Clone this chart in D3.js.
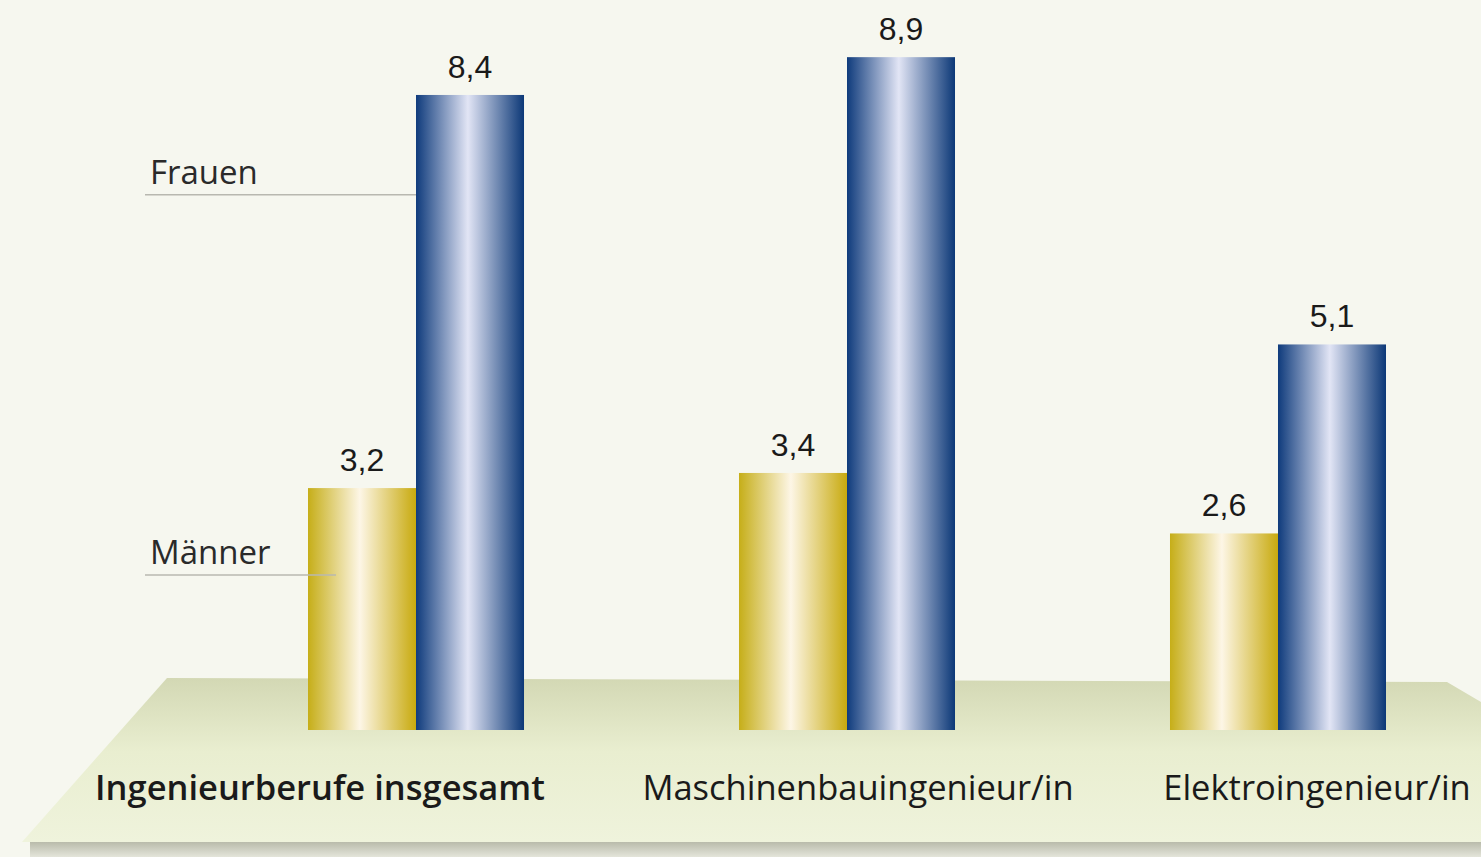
<!DOCTYPE html>
<html lang="de">
<head>
<meta charset="UTF-8">
<title>Ingenieurberufe - Männer / Frauen</title>
<script src="https://d3js.org/d3.v7.min.js"></script>
<style>
    body { margin: 0; background: #f6f7ef; }
    svg { display: block; }
    .val { font-family: "Liberation Sans", Arial, sans-serif; font-size: 32px; fill: #1a1a1a; }
    .cat { font-family: "Open Sans", sans-serif; font-size: 34.5px; fill: #1a1a1a; }
    .leg { font-family: "Open Sans", sans-serif; font-size: 33px; fill: #2a2a2a; }
</style>
</head>
<body>
<svg id="chart" width="1481" height="857"></svg>
<script>
    // data
    let categories = ["Ingenieurberufe insgesamt", "Maschinenbauingenieur/in", "Elektroingenieur/in"]
    let series = ["Männer", "Frauen"]
    let maenner = [3.2, 3.4, 2.6]
    let frauen = [8.4, 8.9, 5.1]
    let labelsDe = d => d.toFixed(1).replace(".", ",")

    let width = 1481, height = 857
    let svg = d3.select("#chart")
    let defs = svg.append("defs")

    function barGradient(id, edgeL, mid, edgeR) {
        let g = defs.append("linearGradient").attr("id", id)
            .attr("x1", "0%").attr("x2", "100%").attr("y1", "0%").attr("y2", "0%")
        g.append("stop").attr("offset", "0%").attr("stop-color", edgeL)
        g.append("stop").attr("offset", "48%").attr("stop-color", mid)
        g.append("stop").attr("offset", "100%").attr("stop-color", edgeR)
    }
    barGradient("gold", "#c6ae18", "#fdf6e6", "#c8aa0e")
    barGradient("blue", "#0f3b7c", "#e2e5f5", "#0c3877")

    let floorGrad = defs.append("linearGradient").attr("id", "floor")
        .attr("x1", "0").attr("x2", "0").attr("y1", "0").attr("y2", "1")
    floorGrad.append("stop").attr("offset", "0%").attr("stop-color", "#d3d8b4")
    floorGrad.append("stop").attr("offset", "45%").attr("stop-color", "#e9eed0")
    floorGrad.append("stop").attr("offset", "100%").attr("stop-color", "#eff3dc")

    let shadowGrad = defs.append("linearGradient").attr("id", "shadow")
        .attr("x1", "0").attr("x2", "0").attr("y1", "0").attr("y2", "1")
    shadowGrad.append("stop").attr("offset", "0%").attr("stop-color", "#b9bbab")
    shadowGrad.append("stop").attr("offset", "100%").attr("stop-color", "#e4e5da")

    // floor
    svg.append("rect").attr("x", 30).attr("y", 842).attr("width", width - 30).attr("height", 15)
        .attr("fill", "url(#shadow)")
    svg.append("path")
        .attr("d", "M167,678 L1447,682 L1481,702 L1481,842 L22,842 Z")
        .attr("fill", "url(#floor)")

    // scales
    let base = 730
    let y = d3.scaleLinear().domain([0, 10]).range([base, base - 756])
    let x = d3.scaleBand().domain(categories).range([308, 1386]).paddingInner(0.4988)
    let xs = d3.scaleBand().domain(series).range([0, x.bandwidth()])

    let rows = categories.map((c, i) => ({cat: c, values: [
        {s: "Männer", v: maenner[i], fill: "url(#gold)"},
        {s: "Frauen", v: frauen[i], fill: "url(#blue)"}
    ]}))

    let groups = svg.selectAll("g.grp").data(rows).enter().append("g")
        .attr("class", "grp")
        .attr("transform", d => `translate(${x(d.cat)},0)`)

    groups.selectAll("rect").data(d => d.values).enter().append("rect")
        .attr("x", d => xs(d.s))
        .attr("y", d => y(d.v))
        .attr("width", xs.bandwidth())
        .attr("height", d => base - y(d.v))
        .attr("fill", d => d.fill)

    groups.selectAll("text.val").data(d => d.values).enter().append("text")
        .attr("class", "val")
        .attr("x", d => xs(d.s) + xs.bandwidth() / 2)
        .attr("y", d => y(d.v) - 17)
        .attr("text-anchor", "middle")
        .text(d => labelsDe(d.v))

    // category labels
    let catX = [320, 858, 1317]
    svg.selectAll("text.cat").data(categories).enter().append("text")
        .attr("class", "cat")
        .attr("x", (d, i) => catX[i])
        .attr("y", 800)
        .attr("text-anchor", "middle")
        .style("font-weight", (d, i) => i === 0 ? 600 : 400)
        .text(d => d)

    // series legend with leader lines
    let g0 = x(categories[0])
    let legend = [
        {s: "Frauen", v: 7.08, end: g0 + xs("Frauen")},
        {s: "Männer", v: 2.05, end: g0 + xs("Männer") + 28}
    ]
    legend.forEach(l => {
        svg.append("line")
            .attr("x1", 145).attr("x2", l.end)
            .attr("y1", y(l.v)).attr("y2", y(l.v))
            .attr("stroke", "#b8b8b0").attr("stroke-width", 1.5)
        svg.append("text").attr("class", "leg")
            .attr("x", 150).attr("y", y(l.v) - 11)
            .text(l.s)
    })
</script>
</body>
</html>
